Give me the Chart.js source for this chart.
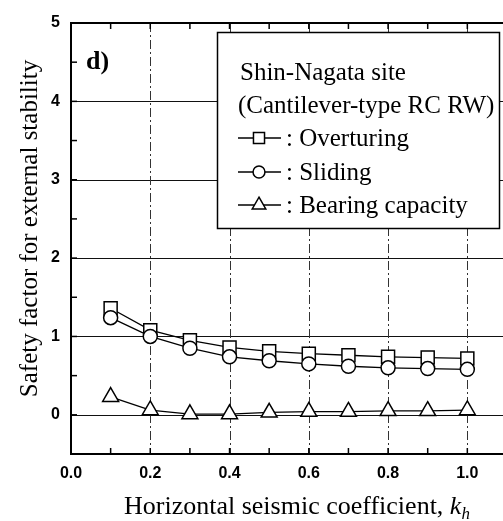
<!DOCTYPE html>
<html>
<head>
<meta charset="utf-8">
<script src="https://cdn.jsdelivr.net/npm/chart.js@4.4.0/dist/chart.umd.min.js"></script>
<style>
    html, body { margin: 0; padding: 0; background: #fff; }
    #wrap { width: 503px; height: 521px; }
</style>
</head>
<body>
<div id="wrap"><canvas id="fs-chart" width="503" height="521"></canvas></div>
<script>
// ---------------------------------------------------------
// Data
// ---------------------------------------------------------
const kh = [0.1, 0.2, 0.3, 0.4, 0.5, 0.6, 0.7, 0.8, 0.9, 1.0];
const overturning = [1.36, 1.08, 0.95, 0.86, 0.81, 0.78, 0.76, 0.74, 0.73, 0.72];
const sliding = [1.24, 1.00, 0.85, 0.74, 0.69, 0.65, 0.62, 0.60, 0.59, 0.58];
const bearing = [0.23, 0.06, 0.01, 0.01, 0.03, 0.04, 0.04, 0.05, 0.05, 0.06];

const xTicks = [0.0, 0.1, 0.2, 0.3, 0.4, 0.5, 0.6, 0.7, 0.8, 0.9, 1.0];
const xTickLabels = ["0.0", "", "0.2", "", "0.4", "", "0.6", "", "0.8", "", "1.0"];
const yTicks = [0, 1, 2, 3, 4, 5];
const yTickLabels = ["0", "1", "2", "3", "4", "5"];
const yMinorTicks = [-0.5, 0.5, 1.5, 2.5, 3.5, 4.5];
const yGridLines = [0, 1, 2, 3, 4];
const xGridLines = [0.2, 0.4, 0.6, 0.8, 1.0];

const legendTitle = ["Shin-Nagata site", "(Cantilever-type RC RW)"];
const panelLabel = "d)";
const yTitle = "Safety factor for external stability";
const xTitle = "Horizontal seismic coefficient, ";

(function () {
    "use strict";

    const SERIF = "'Liberation Serif', 'Times New Roman', serif";
    const SANS = "'Liberation Sans', Arial, sans-serif";

    function toPoints(ys) {
        return kh.map((x, i) => ({ x: x, y: ys[i] }));
    }

    function series(label, ys, style, radius) {
        return {
            label: label,
            data: toPoints(ys),
            borderColor: "#000",
            borderWidth: 1.3,
            pointStyle: style,
            pointRadius: radius,
            pointBorderWidth: 1.5,
            pointBackgroundColor: "#fff",
            pointBorderColor: "#000",
            tension: 0,
            fill: false,
        };
    }

    // draw a marker with Chart.js helper if there, else by hand
    function marker(ctx, style, r, x, y) {
        ctx.save();
        ctx.fillStyle = "#fff";
        ctx.strokeStyle = "#000";
        ctx.lineWidth = 1.5;
        if (Chart.helpers && Chart.helpers.drawPoint) {
            Chart.helpers.drawPoint(ctx, { pointStyle: style, radius: r, rotation: 0, borderWidth: 1.5 }, x, y);
        } else {
            ctx.beginPath();
            ctx.arc(x, y, r, 0, Math.PI * 2);
            ctx.fill();
            ctx.stroke();
        }
        ctx.restore();
    }

    // ---------------------------------------------------------
    // Frame, grid and inside ticks
    // ---------------------------------------------------------
    const framePlugin = {
        id: "frame",
        beforeDatasetsDraw(chart) {
            const ctx = chart.ctx;
            const a = chart.chartArea;
            const xs = chart.scales.x;
            const ys = chart.scales.y;

            ctx.save();
            // horizontal solid grid
            ctx.strokeStyle = "#111";
            ctx.lineWidth = 1;
            yGridLines.forEach((v) => {
                const py = Math.round(ys.getPixelForValue(v)) + 0.5;
                ctx.beginPath();
                ctx.moveTo(a.left, py);
                ctx.lineTo(a.right, py);
                ctx.stroke();
            });

            // vertical dash-dot grid
            ctx.strokeStyle = "#333";
            ctx.setLineDash([9, 3, 2, 3]);
            xGridLines.forEach((v) => {
                const px = Math.round(xs.getPixelForValue(v)) + 0.5;
                ctx.beginPath();
                ctx.moveTo(px, a.top);
                ctx.lineTo(px, a.bottom);
                ctx.stroke();
            });
            ctx.setLineDash([]);

            // tick marks pointing in
            ctx.strokeStyle = "#000";
            ctx.lineWidth = 1.5;
            xTicks.forEach((v) => {
                const px = xs.getPixelForValue(v);
                ctx.beginPath();
                ctx.moveTo(px, a.bottom);
                ctx.lineTo(px, a.bottom - 6);
                ctx.moveTo(px, a.top);
                ctx.lineTo(px, a.top + 6);
                ctx.stroke();
            });
            yMinorTicks.concat(yTicks).forEach((v) => {
                const py = ys.getPixelForValue(v);
                ctx.beginPath();
                ctx.moveTo(a.left, py);
                ctx.lineTo(a.left + 6, py);
                ctx.stroke();
            });

            // frame (right side runs off the picture)
            ctx.lineWidth = 2;
            ctx.beginPath();
            ctx.moveTo(a.right, a.top);
            ctx.lineTo(a.left, a.top);
            ctx.lineTo(a.left, a.bottom);
            ctx.lineTo(a.right, a.bottom);
            ctx.stroke();
            ctx.restore();
        },

        // ---------------------------------------------------------
        // Legend box, panel label, axis titles
        // ---------------------------------------------------------
        afterDatasetsDraw(chart) {
            const ctx = chart.ctx;
            const a = chart.chartArea;
            const ds = chart.data.datasets;

            ctx.save();

            // legend box
            const bx = 217, by = 32, bw = 282, bh = 196;
            ctx.fillStyle = "#fff";
            ctx.fillRect(bx, by, bw, bh);
            ctx.strokeStyle = "#000";
            ctx.lineWidth = 1.5;
            ctx.strokeRect(bx + 0.5, by + 0.5, bw, bh);

            ctx.fillStyle = "#000";
            ctx.font = "25px " + SERIF;
            ctx.textAlign = "left";
            ctx.textBaseline = "alphabetic";
            const baselines = [80, 113, 146, 180, 213];
            ctx.fillText(legendTitle[0], 240, baselines[0]);
            ctx.fillText(legendTitle[1], 238, baselines[1]);

            const order = [ds[1], ds[0], ds[2]];
            order.forEach((d, i) => {
                const yb = baselines[i + 2];
                const ym = yb - 8;
                ctx.strokeStyle = "#000";
                ctx.lineWidth = 1.3;
                ctx.beginPath();
                ctx.moveTo(238, ym);
                ctx.lineTo(281, ym);
                ctx.stroke();
                marker(ctx, d.pointStyle, d.pointRadius * 0.85, 259, ym);
                ctx.fillStyle = "#000";
                ctx.fillText(": " + d.label, 286, yb);
            });

            // panel label
            ctx.font = "bold 26px " + SERIF;
            ctx.fillText(panelLabel, 86, 69);

            // y title
            ctx.save();
            ctx.translate(37, (a.top + a.bottom) / 2 - 10);
            ctx.rotate(-Math.PI / 2);
            ctx.font = "25px " + SERIF;
            ctx.textAlign = "center";
            ctx.fillText(yTitle, 0, 0);
            ctx.restore();

            // x title with italic k_h
            ctx.font = "26px " + SERIF;
            ctx.textAlign = "left";
            const x0 = 124, yb = 514;
            ctx.fillText(xTitle, x0, yb);
            const w = ctx.measureText(xTitle).width;
            ctx.font = "italic 26px " + SERIF;
            ctx.fillText("k", x0 + w, yb);
            const wk = ctx.measureText("k").width;
            ctx.font = "italic 17px " + SERIF;
            ctx.fillText("h", x0 + w + wk, yb + 5);

            ctx.restore();
        },
    };

    // ---------------------------------------------------------
    // Chart
    // ---------------------------------------------------------
    const canvas = document.getElementById("fs-chart");

    new Chart(canvas, {
        type: "line",
        data: {
            datasets: [
                series("Sliding", sliding, "circle", 7),
                series("Overturing", overturning, "rect", 9.2),
                series("Bearing capacity", bearing, "triangle", 9.2),
            ],
        },
        options: {
            responsive: false,
            animation: false,
            layout: { autoPadding: false, padding: { left: 0, right: 0, top: 23, bottom: 0 } },
            plugins: {
                legend: { display: false },
                tooltip: { enabled: false },
            },
            scales: {
                x: {
                    type: "linear",
                    min: 0,
                    max: 1.09,
                    grid: { display: false, drawTicks: false },
                    border: { display: false },
                    afterBuildTicks: (s) => {
                        s.ticks = xTicks.map((v) => ({ value: v }));
                    },
                    afterFit: (s) => {
                        s.height = 67;
                        s.paddingLeft = 0;
                        s.paddingRight = 0;
                    },
                    ticks: {
                        autoSkip: false,
                        maxRotation: 0,
                        padding: 10,
                        color: "#000",
                        font: { family: SANS, size: 16, weight: "bold" },
                        callback: (v, i) => xTickLabels[i],
                    },
                },
                y: {
                    type: "linear",
                    min: -0.5,
                    max: 5,
                    grid: { display: false, drawTicks: false },
                    border: { display: false },
                    afterBuildTicks: (s) => {
                        s.ticks = yTicks.map((v) => ({ value: v }));
                    },
                    afterFit: (s) => {
                        s.width = 71;
                        s.paddingTop = 0;
                        s.paddingBottom = 0;
                    },
                    ticks: {
                        padding: 11,
                        color: "#000",
                        font: { family: SANS, size: 16, weight: "bold" },
                        callback: (v, i) => yTickLabels[i],
                    },
                },
            },
        },
        plugins: [framePlugin],
    });
})();
</script>
</body>
</html>
